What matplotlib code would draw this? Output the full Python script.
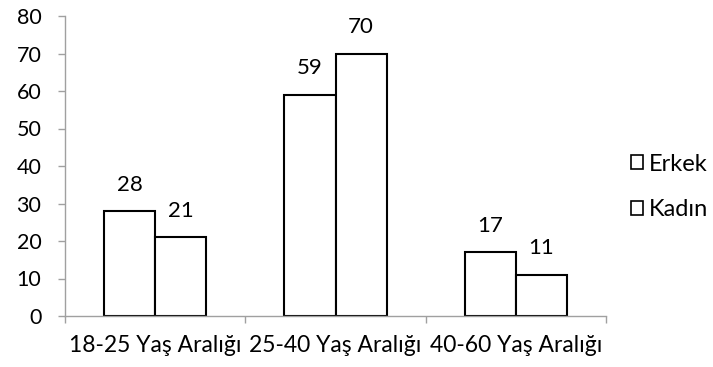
import matplotlib
matplotlib.use("Agg")
import matplotlib.pyplot as plt
from matplotlib.patches import Patch
import numpy as np

categories = ["18-25 Yaş Aralığı", "25-40 Yaş Aralığı", "40-60 Yaş Aralığı"]
series_names = ["Erkek", "Kadın"]
erkek = [28, 59, 17]
kadin = [21, 70, 11]
yticks = [0, 10, 20, 30, 40, 50, 60, 70, 80]

plt.rcParams['font.family'] = ['Lato', 'DejaVu Sans']
fs_x = 16.5
fs_y = 15.5
fs_v = 16
fs_l = 17

fig = plt.figure(figsize=(7.13, 3.67), dpi=100)
ax = fig.add_axes([65/713, 51/367, (606-65)/713, (316-16)/367])

x = np.arange(len(categories))
w = 0.283
b1 = ax.bar(x - w/2, erkek, w, color='white', edgecolor='black', linewidth=1.5)
b2 = ax.bar(x + w/2, kadin, w, color='white', edgecolor='black', linewidth=1.5)
for bars, vals in ((b1, erkek), (b2, kadin)):
    for r, v in zip(bars, vals):
        ax.text(r.get_x() + r.get_width()/2, v + 7, str(v), ha='center', va='center', fontsize=fs_v)

ax.set_xlim(-0.5, 2.5)
ax.set_ylim(0, 80)
ax.set_yticks(yticks)
ax.set_yticklabels([str(t) for t in yticks], fontsize=fs_y)
ax.set_xticks(x)
ax.set_xticklabels(categories, fontsize=fs_x)
ax.tick_params(axis='x', length=0, pad=14)
ax.set_xticks([-0.5, 0.5, 1.5, 2.5], minor=True)
ax.tick_params(axis='x', which='minor', length=5, color='#a0a0a0', width=1)
ax.tick_params(axis='y', length=5, color='#a0a0a0', width=1, pad=12)
for s in ['top', 'right']:
    ax.spines[s].set_visible(False)
for s in ['left', 'bottom']:
    ax.spines[s].set_color('#a0a0a0')
    ax.spines[s].set_linewidth(1)

handles = [Patch(facecolor='white', edgecolor='black', linewidth=1.2, label=n) for n in series_names]
fig.legend(handles=handles, loc='center left', bbox_to_anchor=(631/713, 1 - 187/367),
           frameon=False, fontsize=fs_l, handlelength=0.5, handleheight=0.5,
           handletextpad=0.25, labelspacing=1.05, borderpad=0, borderaxespad=0)

fig.savefig("out.png", dpi=100)
